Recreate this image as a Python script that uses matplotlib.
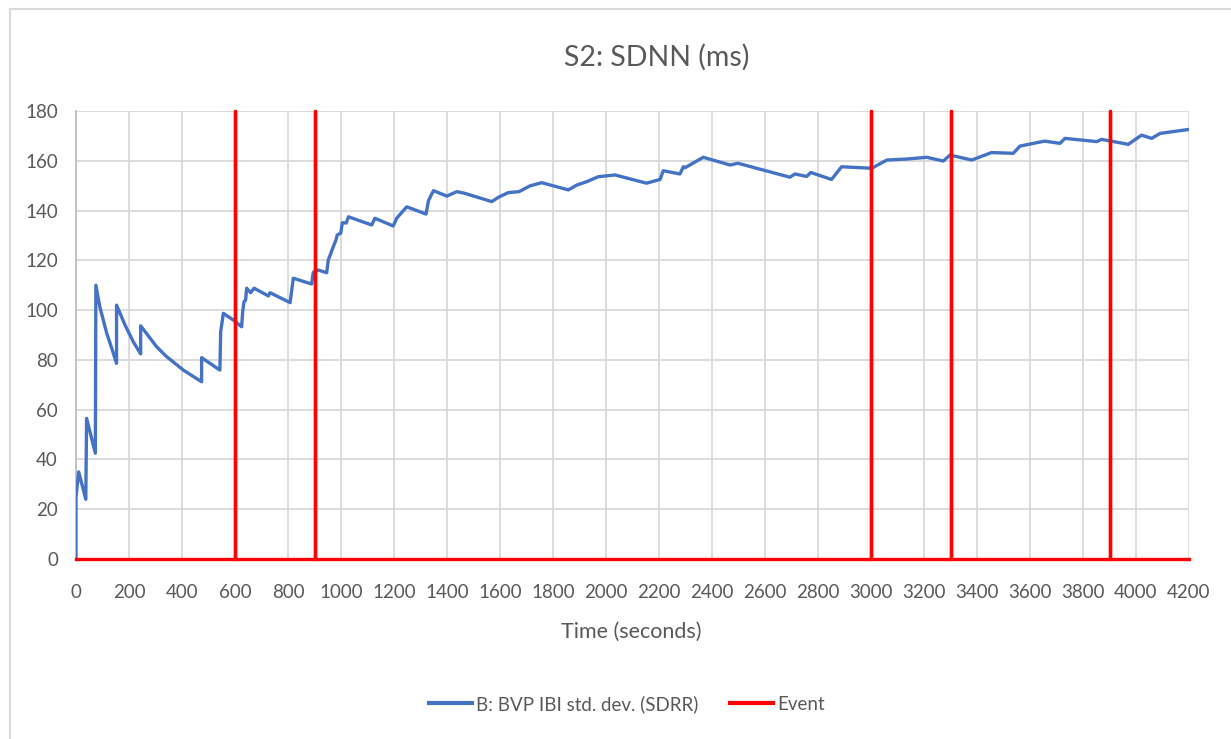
import matplotlib
matplotlib.use("Agg")
import matplotlib.pyplot as plt
from matplotlib.lines import Line2D

plt.rcParams['font.family'] = ['Lato', 'DejaVu Sans']

title = "S2: SDNN (ms)"
xlabel = "Time (seconds)"
series_name = "B: BVP IBI std. dev. (SDRR)"
event_name = "Event"

time_s = [0, 0, 10, 37, 40, 73, 75, 90, 116, 135, 153, 153, 185, 216, 244, 244, 304, 342, 405,
          474, 474, 543, 546, 556, 594, 625, 629, 634, 640, 644, 659, 672, 726, 732,
          808, 820, 889, 895, 898, 914, 946, 952, 971, 981, 986, 999, 1005, 1020,
          1028, 1116, 1128, 1197, 1210, 1248, 1321, 1330, 1349, 1399, 1437, 1464,
          1569, 1597, 1631, 1672, 1713, 1757, 1858, 1889, 1927, 1971, 2034, 2153,
          2204, 2216, 2279, 2292, 2298, 2367, 2468, 2498, 2694, 2713, 2757, 2773,
          2851, 2889, 3003, 3060, 3135, 3210, 3273, 3298, 3380, 3455, 3537, 3562,
          3655, 3713, 3732, 3852, 3870, 3971, 4021, 4059, 4091, 4200]
sdrr = [0, 25, 35, 24, 56.5, 42.5, 110, 101.3, 90.7, 84.6, 78.6, 102, 94, 87.3, 82.4, 93.7,
        85.3, 81.3, 75.9,
        71.2, 80.9, 75.9, 91.3, 98.7, 96, 93.3, 99.4, 103.4, 104, 108.8, 107, 108.8,
        105.7, 107, 103, 112.8, 110.5, 115, 115.4, 116.1, 115, 120.1, 125.5, 128.2,
        130.2, 130.9, 135.1, 135, 137.5, 134.2, 136.9, 133.8, 136.9, 141.5, 138.6,
        144, 148, 145.8, 147.6, 147, 143.6, 145.5, 147.2, 147.6, 149.9, 151.2, 148.3,
        150.2, 151.6, 153.6, 154.3, 151, 152.5, 156, 154.7, 157.6, 157.2, 161.4,
        158.3, 159, 153.4, 154.7, 153.7, 155.3, 152.5, 157.6, 157, 160.3, 160.7,
        161.4, 159.9, 162.3, 160.3, 163.3, 163, 165.9, 167.9, 167, 169, 167.7, 168.6,
        166.6, 170.3, 169, 171, 172.6]

event_times = [600, 900, 3000, 3300, 3900]
event_height = 180
x_max = 4200

# Build Event series: zero baseline with spikes at events
ev_x, ev_y = [0], [0]
for t in event_times:
    ev_x += [t, t, t]
    ev_y += [0, event_height, 0]
ev_x.append(x_max)
ev_y.append(0)

fig = plt.figure(figsize=(12.31, 7.39), dpi=100)
ax = fig.add_axes([76/1231, 1-559/739, (1189-76)/1231, (559-111)/739])

blue = "#4472C4"
red = "#FF0000"
ax.plot(time_s, sdrr, color=blue, lw=2.4, solid_joinstyle='round', zorder=3)
ax.plot(ev_x, ev_y, color=red, lw=2.4, zorder=4, clip_on=False)

ax.set_xlim(0, x_max)
ax.set_ylim(0, 180)
ax.set_xticks(range(0, x_max + 1, 200))
ax.set_yticks(range(0, 181, 20))
ax.grid(True, color="#D9D9D9", lw=1.3)
ax.set_axisbelow(True)
for s in ['top', 'right', 'bottom']:
    ax.spines[s].set_visible(False)
ax.spines['left'].set_color("#BFBFBF")
ax.spines['left'].set_linewidth(1.3)
ax.tick_params(axis='both', length=0, labelsize=13.5, labelcolor="#595959")
ax.tick_params(axis='x', pad=18)
ax.tick_params(axis='y', pad=13)

fig.text(657/1231, 1-57/739, title, ha='center', va='center', fontsize=20.5, color="#595959")
fig.text(631/1231, 1-632/739, xlabel, ha='center', va='center', fontsize=15.5, color="#595959")

handles = [Line2D([], [], color=blue, lw=3), Line2D([], [], color=red, lw=3)]
fig.legend(handles, [series_name, event_name], loc='center', bbox_to_anchor=(627/1231, 1-704/739),
           ncol=2, frameon=False, fontsize=13.5, labelcolor="#595959", handlelength=2.3,
           handletextpad=0.2, columnspacing=1.7)

# outer chart frame (partially visible)
fig.add_artist(Line2D([10/1231, 10/1231], [0, 1-9/739], transform=fig.transFigure, color="#D9D9D9", lw=1.5))
fig.add_artist(Line2D([10/1231, 1], [1-9/739, 1-9/739], transform=fig.transFigure, color="#D9D9D9", lw=1.5))

fig.savefig("out.png", dpi=100)
